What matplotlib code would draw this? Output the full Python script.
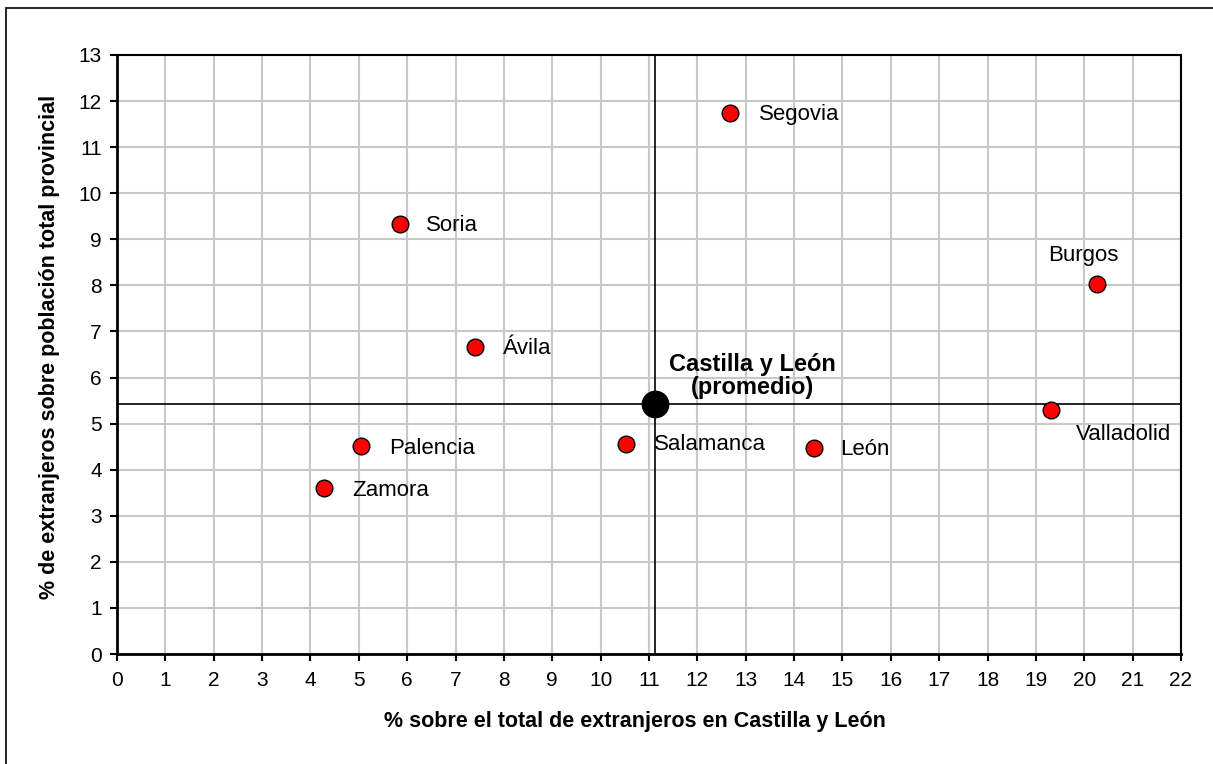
import matplotlib.pyplot as plt
from matplotlib.patches import Rectangle

plt.rcParams['font.family'] = ['Liberation Sans', 'DejaVu Sans']

provincias = ['Segovia', 'Soria', 'Burgos', 'Ávila', 'Valladolid',
              'Palencia', 'Salamanca', 'León', 'Zamora']
pct_total = [12.68, 5.85, 20.26, 7.40, 19.31, 5.05, 10.53, 14.41, 4.28]
pct_prov = [11.74, 9.34, 8.02, 6.67, 5.29, 4.51, 4.55, 4.46, 3.60]

cyl_x = 11.12
cyl_y = 5.42

# label offsets (points) and alignment for each province
offsets = {
    'Segovia': (21, -1, 'left', 'center'),
    'Soria': (19, -1, 'left', 'center'),
    'Burgos': (-10, 13, 'center', 'bottom'),
    'Ávila': (20, -1, 'left', 'center'),
    'Valladolid': (18, -10, 'left', 'top'),
    'Palencia': (20, -2, 'left', 'center'),
    'Salamanca': (20, 0, 'left', 'center'),
    'León': (19, -1, 'left', 'center'),
    'Zamora': (20, -2, 'left', 'center'),
}

fig = plt.figure(figsize=(12.13, 7.64), dpi=100)
ax = fig.add_axes([117 / 1213, 1 - 654 / 764, 1064 / 1213, 599 / 764])

# outer frame (only left/top visible in reference)
fig.patches.append(Rectangle((6 / 1213, -0.1), 1.2, 1 - 8 / 764 + 0.1,
                             transform=fig.transFigure, fill=False,
                             edgecolor='black', linewidth=1.2))

ax.set_xlim(0, 22)
ax.set_ylim(0, 13)
ax.set_xticks(range(0, 23))
ax.set_yticks(range(0, 14))
ax.grid(True, color='#c8c8c8', linewidth=1.5)
ax.set_axisbelow(True)

ax.axvline(cyl_x, color='black', linewidth=1.2, zorder=2)
ax.axhline(cyl_y, color='black', linewidth=1.2, zorder=2)

ax.scatter(pct_total, pct_prov, s=12 ** 2, color='red', edgecolor='black',
           linewidth=1, zorder=3)
ax.scatter([cyl_x], [cyl_y], s=19 ** 2, color='black', zorder=4)

for name, x, y in zip(provincias, pct_total, pct_prov):
    dx, dy, ha, va = offsets[name]
    ax.annotate(name, (x, y), xytext=(dx, dy), textcoords='offset points',
                ha=ha, va=va, fontsize=16)

ax.annotate('Castilla y León\n(promedio)', (cyl_x, cyl_y), xytext=(70, 4),
            textcoords='offset points', ha='center', va='bottom',
            fontsize=17, fontweight='bold', linespacing=1.0)

for s in ['left', 'bottom']:
    ax.spines[s].set_linewidth(2)
for s in ['top', 'right']:
    ax.spines[s].set_linewidth(1.5)
ax.tick_params(direction='out', length=5, width=1.5, labelsize=15)
ax.tick_params(axis='x', pad=7)
ax.tick_params(axis='y', pad=6)

ax.set_xlabel('% sobre el total de extranjeros en Castilla y León',
              fontsize=15.5, fontweight='bold')
ax.set_ylabel('% de extranjeros sobre población total provincial',
              fontsize=15.5, fontweight='bold')
ax.xaxis.set_label_coords((635 - 117) / 1064, -0.095)
ax.yaxis.set_label_coords(-0.054, (654 - 347) / 599)

fig.savefig('out.png', dpi=100)
